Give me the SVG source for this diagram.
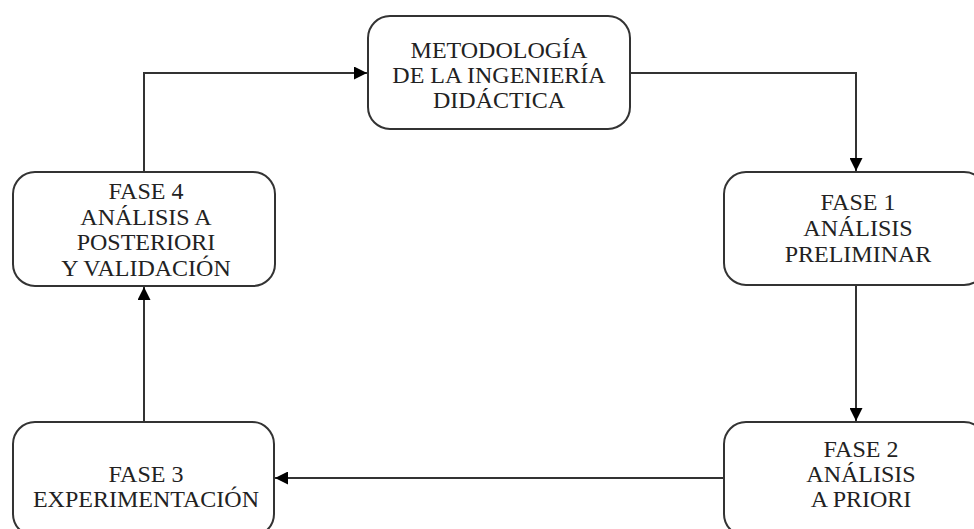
<svg xmlns="http://www.w3.org/2000/svg" width="974" height="529" viewBox="0 0 974 529">
<style>
.box{fill:#fff;stroke:#333;stroke-width:2}
.t{font-family:"Liberation Serif","Times New Roman",serif;font-size:24px;fill:#222;text-anchor:middle}
.c{fill:none;stroke:#333;stroke-width:2}
</style>
<defs>
<marker id="ah" viewBox="0 0 10 10" refX="10" refY="5" markerWidth="15" markerHeight="13" markerUnits="userSpaceOnUse" orient="auto">
<path d="M0,0 L10,5 L0,10 z" fill="#000"/>
</marker>
</defs>
<rect width="974" height="529" fill="#fff"/>
<g id="connectors">
<path class="c" d="M144,172 V73 H367" marker-end="url(#ah)"/>
<path class="c" d="M630,73 H856 V171" marker-end="url(#ah)"/>
<path class="c" d="M856,285 V421" marker-end="url(#ah)"/>
<path class="c" d="M724,478 H275" marker-end="url(#ah)"/>
<path class="c" d="M144,422 V287" marker-end="url(#ah)"/>
</g>
<g id="n0">
<rect class="box" x="368" y="16" width="262" height="113" rx="22"/>
<text class="t" x="499" y="58">METODOLOGÍA</text>
<text class="t" x="499" y="83">DE LA INGENIERÍA</text>
<text class="t" x="499" y="108">DIDÁCTICA</text>
</g>
<g id="n1">
<rect class="box" x="724" y="172" width="262" height="113" rx="22"/>
<text class="t" x="858" y="210">FASE 1</text>
<text class="t" x="858" y="236">ANÁLISIS</text>
<text class="t" x="858" y="262">PRELIMINAR</text>
</g>
<g id="n2">
<rect class="box" x="724" y="422" width="262" height="114" rx="22"/>
<text class="t" x="861" y="457">FASE 2</text>
<text class="t" x="861" y="482">ANÁLISIS</text>
<text class="t" x="861" y="507">A PRIORI</text>
</g>
<g id="n3">
<rect class="box" x="13" y="422" width="261" height="114" rx="22"/>
<text class="t" x="146" y="482">FASE 3</text>
<text class="t" x="146" y="507">EXPERIMENTACIÓN</text>
</g>
<g id="n4">
<rect class="box" x="13" y="172" width="262" height="114" rx="22"/>
<text class="t" x="146" y="199">FASE 4</text>
<text class="t" x="146" y="224.5">ANÁLISIS A</text>
<text class="t" x="146" y="250">POSTERIORI</text>
<text class="t" x="146" y="275.5">Y VALIDACIÓN</text>
</g>
</svg>
